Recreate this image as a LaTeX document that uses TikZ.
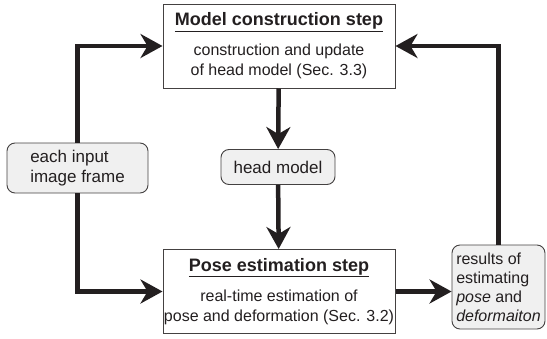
\documentclass[tikz,border=0pt]{standalone}
\usepackage{fontspec}
\setmainfont{Liberation Sans}
\usetikzlibrary{positioning,arrows.meta}

\definecolor{inkblack}{RGB}{35,31,32}
\definecolor{boxgray}{RGB}{240,240,240}

\newcommand{\steptitle}[1]{\underline{\fontsize{18}{20}\selectfont\bfseries #1}}

\begin{document}
\begin{tikzpicture}
[x=1pt, y=-1pt, font=\fontsize{17}{20}\selectfont,
    >={Stealth[length=22pt,width=24pt,inset=7pt]},
    stepbox/.style={rectangle, draw=inkblack!85, line width=1pt,
        fill=white, text=inkblack, align=center,
        font=\fontsize{16}{20}\selectfont,
        minimum width=232pt, minimum height=84pt, inner sep=0pt},
    databox/.style={rectangle, rounded corners=8pt, draw=inkblack!85,
        line width=0.9pt, fill=boxgray, text=inkblack},
    flow/.style={->, draw=inkblack, line width=4.5pt},
    ]

    % keep the page at the size of the reference
    \useasboundingbox (0,0) rectangle (547,338);

    % the two steps
    \node[stepbox] (construct) at (279,46) {\steptitle{Model construction step}\\[10pt]
        construction and update\\ of head model (Sec. 3.3)};
    \node[stepbox] (pose) at (279,291.5) {\steptitle{Pose estimation step}\\[10pt]
        real-time estimation of\\ pose and deformation (Sec. 3.2)};

    % data between the steps
    \node[databox, align=left, minimum width=141pt, minimum height=50pt]
        (input) at (77.5,168) {each input\\ image frame};
    \node[databox, align=center, minimum width=114pt, minimum height=35pt]
        (headmodel) at (278,167) {head model};
    \node[databox, align=left, minimum width=93pt, minimum height=84pt,
          font=\fontsize{16}{19}\selectfont]
        (results) at (498.5,287) {results of\\ estimating\\ \textit{pose} and\\ \textit{deformaiton}};

    % connectors
    \draw[flow] (input.north) |- (construct.west);
    \draw[flow] (input.south) |- (pose.west);
    \draw[flow] (construct) -- (headmodel);
    \draw[flow] (headmodel) -- (pose);
    \draw[flow] (pose.east) -- (pose.east -| results.west);
    \draw[flow] (results.north) |- (construct.east);

\end{tikzpicture}
\end{document}
